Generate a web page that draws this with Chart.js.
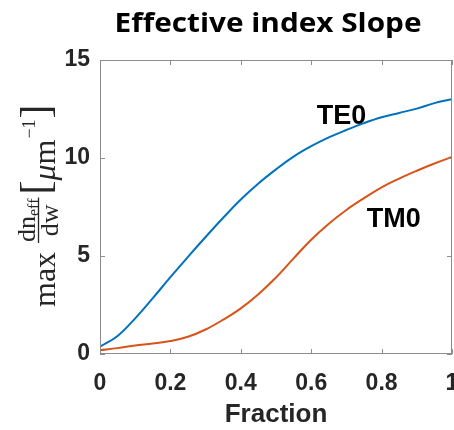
<!DOCTYPE html>
<html>
<head>
<meta charset="utf-8">
<script src="https://cdn.jsdelivr.net/npm/chart.js@4.4.1/dist/chart.umd.min.js"></script>
<style>
  html, body { margin: 0; padding: 0; background: #fff; }
  #wrap { width: 454px; height: 430px; }
</style>
</head>
<body>
<div id="wrap"><canvas id="slopeChart" width="454" height="430"></canvas></div>
<script>
/* =========================================
   EFFECTIVE INDEX SLOPE — chart data
   ========================================= */
var fraction = [0, 0.05, 0.1, 0.15, 0.2, 0.25, 0.3, 0.35, 0.4, 0.45, 0.5,
                0.55, 0.6, 0.65, 0.7, 0.75, 0.8, 0.85, 0.9, 0.95, 1];
var te0Slope = [0.37, 0.92, 1.82, 2.85, 3.92, 4.96, 5.97, 6.95, 7.88, 8.7, 9.42,
                10.07, 10.6, 11.05, 11.43, 11.78, 12.08, 12.3, 12.52, 12.8, 13.0];
var tm0Slope = [0.2, 0.3, 0.43, 0.53, 0.66, 0.88, 1.25, 1.75, 2.33, 3.05, 3.9,
                4.88, 5.83, 6.65, 7.35, 7.95, 8.5, 8.95, 9.35, 9.72, 10.05];
var seriesNames = ['TE0', 'TM0'];

var xTicks = [0, 0.2, 0.4, 0.6, 0.8, 1];
var xTickLabels = ['0', '0.2', '0.4', '0.6', '0.8', '1'];
var yTicks = [0, 5, 10, 15];
var yTickLabels = ['0', '5', '10', '15'];

var chartTitle = 'Effective index Slope';
var xAxisTitle = 'Fraction';

/* --- Styles --- */
var BLUE = '#0072BD';
var ORANGE = '#D95319';
var TEXT = '#262626';
var AXIS = '#8c8c8c';
var SANS = '"Liberation Sans", Arial, sans-serif';
var SERIF = '"Liberation Serif", "DejaVu Serif", serif';

// where the curve names sit, in data units (left edge / baseline)
var nameAnchors = [{ x: 0.616, y: 11.75 }, { x: 0.758, y: 6.5 }];

function toPoints(ys) {
  return fraction.map(function (x, i) { return { x: x, y: ys[i] }; });
}

/* --- Box, inward ticks, title, y label, curve names --- */
var decorPlugin = {
  id: 'decor',
  afterDatasetsDraw: function (chart) {
    var ctx = chart.ctx;
    var a = chart.chartArea;
    var xs = chart.scales.x;
    var ys = chart.scales.y;
    var tick = 5;

    ctx.save();
    ctx.strokeStyle = AXIS;
    ctx.lineWidth = 1;
    ctx.strokeRect(a.left + 0.5, a.top + 0.5, a.right - a.left - 1, a.bottom - a.top - 1);

    ctx.beginPath();
    xTicks.forEach(function (v) {
      var px = Math.round(xs.getPixelForValue(v)) + 0.5;
      ctx.moveTo(px, a.bottom); ctx.lineTo(px, a.bottom - tick);
      ctx.moveTo(px, a.top); ctx.lineTo(px, a.top + tick);
    });
    yTicks.forEach(function (v) {
      var py = Math.round(ys.getPixelForValue(v)) + 0.5;
      ctx.moveTo(a.left, py); ctx.lineTo(a.left + tick, py);
      ctx.moveTo(a.right, py); ctx.lineTo(a.right - tick, py);
    });
    ctx.stroke();

    // curve names
    ctx.fillStyle = '#000';
    ctx.font = 'bold 27px ' + SANS;
    ctx.textAlign = 'left';
    ctx.textBaseline = 'alphabetic';
    seriesNames.forEach(function (name, i) {
      ctx.fillText(name, xs.getPixelForValue(nameAnchors[i].x), ys.getPixelForValue(nameAnchors[i].y));
    });

    // title, stretched a little to the width of the original
    ctx.font = 'bold 27px "Open Sans", Lato, sans-serif';
    ctx.textAlign = 'center';
    var tw = ctx.measureText(chartTitle).width;
    ctx.save();
    ctx.translate(268, 32);
    ctx.scale(307 / tw, 1);
    ctx.fillText(chartTitle, 0, 0);
    ctx.restore();

    drawYLabel(ctx);
    ctx.restore();
  }
};

function drawYLabel(ctx) {
  ctx.save();
  ctx.translate(55, 307);
  ctx.rotate(-Math.PI / 2);
  ctx.fillStyle = TEXT;
  ctx.strokeStyle = TEXT;
  ctx.textAlign = 'left';
  ctx.textBaseline = 'alphabetic';

  ctx.font = '32px ' + SERIF;
  ctx.fillText('max', 0, 0);

  // fraction dn_eff / dw
  ctx.font = '26px ' + SERIF;
  var wDn = ctx.measureText('dn').width;
  ctx.font = '16px ' + SERIF;
  var wEff = ctx.measureText('eff').width;
  ctx.font = '26px ' + SERIF;
  var wDw = ctx.measureText('dw').width;
  var fracLeft = 64;
  var fracW = Math.max(wDn + wEff, wDw) + 2;
  var mid = fracLeft + fracW / 2;
  var numLeft = mid - (wDn + wEff) / 2;
  ctx.fillText('dn', numLeft, -20);
  ctx.font = '16px ' + SERIF;
  ctx.fillText('eff', numLeft + wDn, -16);
  ctx.font = '26px ' + SERIF;
  ctx.fillText('dw', mid - wDw / 2, 3);
  ctx.lineWidth = 1.3;
  ctx.beginPath();
  ctx.moveTo(fracLeft, -16.5);
  ctx.lineTo(fracLeft + fracW, -16.5);
  ctx.stroke();

  // [ μm^-1 ]
  var s = fracLeft + fracW + 3;
  ctx.font = '42px ' + SERIF;
  ctx.fillText('[', s, -6);
  s += ctx.measureText('[').width;
  ctx.font = 'italic 32px ' + SERIF;
  ctx.fillText('\u03bc', s, 0);
  s += ctx.measureText('\u03bc').width;
  ctx.font = '32px ' + SERIF;
  ctx.fillText('m', s, 0);
  s += ctx.measureText('m').width + 1;
  ctx.font = '18px ' + SERIF;
  ctx.fillText('\u22121', s, -20);
  s += ctx.measureText('\u22121').width + 1;
  ctx.font = '42px ' + SERIF;
  ctx.fillText(']', s, -6);
  ctx.restore();
}

new Chart(document.getElementById('slopeChart').getContext('2d'), {
  type: 'line',
  data: {
    datasets: [{
      label: seriesNames[0],
      data: toPoints(te0Slope),
      borderColor: BLUE,
      borderWidth: 2,
      pointRadius: 0,
      tension: 0.4
    }, {
      label: seriesNames[1],
      data: toPoints(tm0Slope),
      borderColor: ORANGE,
      borderWidth: 2,
      pointRadius: 0,
      tension: 0.4
    }]
  },
  options: {
    responsive: false,
    animation: false,
    devicePixelRatio: 1,
    layout: { padding: { top: 60, right: 2, left: 0, bottom: 0 } },
    plugins: { legend: { display: false }, tooltip: { enabled: false } },
    scales: {
      x: {
        type: 'linear',
        min: 0,
        max: 1,
        afterBuildTicks: function (scale) {
          scale.ticks = xTicks.map(function (v) { return { value: v }; });
        },
        afterFit: function (scale) {
          scale.height = 76;
          scale.paddingLeft = 0;
          scale.paddingRight = 0;
        },
        grid: { drawOnChartArea: false, drawTicks: false },
        border: { display: false },
        ticks: {
          padding: 16,
          maxRotation: 0,
          autoSkip: false,
          color: TEXT,
          font: { family: SANS, size: 23, weight: 'bold' },
          callback: function (v, i) { return xTickLabels[i]; }
        },
        title: {
          display: true,
          text: xAxisTitle,
          color: TEXT,
          padding: { top: 0, bottom: 0 },
          font: { family: SANS, size: 26, weight: 'bold', lineHeight: 1.2 }
        }
      },
      y: {
        type: 'linear',
        min: 0,
        max: 15,
        afterBuildTicks: function (scale) {
          scale.ticks = yTicks.map(function (v) { return { value: v }; });
        },
        afterFit: function (scale) {
          scale.width = 100;
          scale.paddingTop = 0;
          scale.paddingBottom = 0;
        },
        grid: { drawOnChartArea: false, drawTicks: false },
        border: { display: false },
        ticks: {
          padding: 10,
          autoSkip: false,
          color: TEXT,
          font: { family: SANS, size: 23, weight: 'bold' },
          callback: function (v, i) { return yTickLabels[i]; }
        }
      }
    }
  },
  plugins: [decorPlugin]
});
</script>
</body>
</html>
